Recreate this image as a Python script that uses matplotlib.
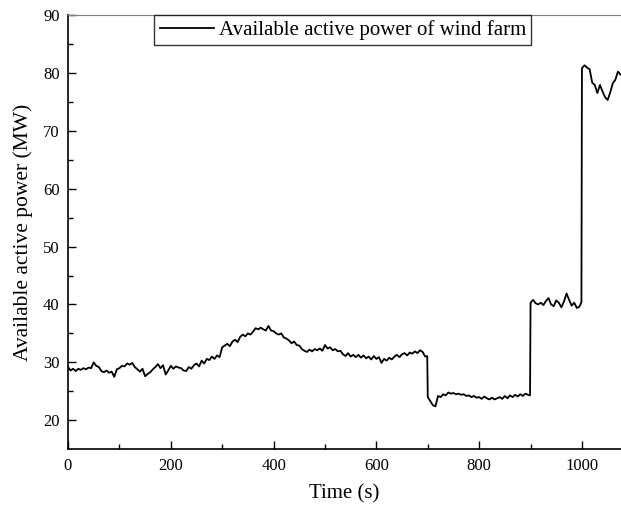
import numpy as np
import matplotlib
matplotlib.use("Agg")
import matplotlib.pyplot as plt

# wind farm available active power, sampled every 5 s,
# with one extra sample just before each step change
time_s = np.concatenate([
    np.arange(0, 700, 5), [699],
    np.arange(700, 900, 5), [899],
    np.arange(900, 1000, 5), [999],
    np.arange(1000, 1080, 5),
])
power_mw = [
    # 0-95
    29.2, 28.6, 28.9, 28.5, 28.9, 28.7, 29.0, 28.8, 29.1, 29.0,
    30.0, 29.4, 29.2, 28.5, 28.3, 28.6, 28.2, 28.4, 27.5, 28.8,
    # 100-195
    29.0, 29.4, 29.3, 29.8, 29.6, 29.9, 29.2, 28.8, 28.4, 28.9,
    27.6, 28.0, 28.3, 28.8, 29.2, 29.7, 29.0, 29.5, 27.9, 28.6,
    # 200-295
    29.4, 28.9, 29.3, 29.1, 29.0, 28.6, 28.5, 29.2, 28.9, 29.5,
    29.8, 29.3, 30.3, 29.8, 30.6, 30.4, 31.0, 30.6, 31.2, 30.9,
    # 300-395
    32.6, 32.9, 33.2, 32.8, 33.6, 33.9, 33.5, 34.4, 34.8, 34.5,
    35.0, 34.8, 35.3, 35.9, 35.7, 36.0, 35.7, 35.5, 36.3, 35.5,
    # 400-495
    35.4, 35.0, 34.8, 35.0, 34.3, 34.1, 33.8, 33.3, 33.6, 33.0,
    32.9, 32.3, 32.0, 31.8, 32.2, 31.9, 32.3, 32.1, 32.4, 32.0,
    # 500-595
    33.0, 32.4, 32.6, 32.1, 32.3, 31.9, 32.0, 31.4, 31.1, 31.6,
    31.0, 31.3, 30.9, 31.3, 30.8, 31.2, 30.7, 31.0, 30.5, 31.1,
    # 600-699
    30.6, 30.9, 29.9, 30.6, 30.3, 30.8, 30.5, 31.0, 31.3, 30.9,
    31.4, 31.6, 31.2, 31.7, 31.5, 31.9, 31.6, 32.1, 31.8, 31.0, 31.1,
    # 700-899
    24.0, 23.3, 22.6, 22.4, 24.2, 24.0, 24.5, 24.3, 24.8, 24.6,
    24.7, 24.5, 24.6, 24.4, 24.5, 24.2, 24.3, 24.0, 24.2, 23.9,
    24.0, 23.7, 24.1, 23.8, 23.6, 23.9, 23.6, 23.8, 24.0, 23.7,
    24.2, 23.8, 24.3, 24.0, 24.4, 24.1, 24.5, 24.2, 24.6, 24.4, 24.3,
    # 900-999
    40.3, 40.8, 40.2, 40.0, 40.3, 39.9, 40.6, 41.1, 40.0, 39.7,
    40.7, 40.3, 39.5, 40.5, 41.9, 40.8, 39.8, 40.3, 39.4, 39.6, 40.4,
    # 1000-1075
    80.8, 81.3, 80.9, 80.6, 78.3, 77.9, 76.5, 77.9, 76.8, 75.8,
    75.3, 76.6, 78.2, 78.8, 80.2, 79.7,
]

plt.rcParams['font.family'] = ['Liberation Serif', 'DejaVu Serif']

fig = plt.figure(figsize=(6.21, 5.14), dpi=100)
ax = fig.add_axes([0.1095, 0.126, 0.8905, 0.845])

ax.plot(time_s, power_mw, color='black', lw=1.3,
        label='Available active power of wind farm')

ax.set_xlim(0, 1076)
ax.set_ylim(15, 90)
ax.set_xticks([0, 200, 400, 600, 800, 1000])
ax.set_xticks(np.arange(100, 1100, 200), minor=True)
ax.set_yticks(np.arange(20, 91, 10))
ax.set_yticks(np.arange(25, 90, 10), minor=True)
ax.tick_params(which='major', direction='in', length=6, width=1, labelsize=12, pad=6)
ax.tick_params(which='minor', direction='in', length=3.3, width=1)

ax.spines['right'].set_visible(False)
ax.spines['top'].set_color('#808080')
ax.spines['left'].set_linewidth(1.2)
ax.spines['bottom'].set_linewidth(1.2)

ax.set_xlabel('Time (s)', fontsize=15, labelpad=8)
ax.set_ylabel('Available active power (MW)', fontsize=15.5, labelpad=7)

leg = ax.legend(loc='upper center', bbox_to_anchor=(0.497, 1.0), fontsize=15,
                frameon=True, fancybox=False, borderpad=0.25,
                handlelength=2.6, handletextpad=0.25, borderaxespad=0)
leg.get_frame().set_edgecolor('black')
leg.get_frame().set_linewidth(1.0)

fig.savefig('out.png', dpi=100)
